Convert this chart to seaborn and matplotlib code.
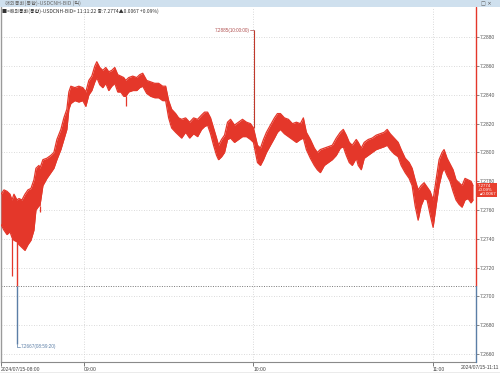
import numpy as np
import pandas as pd
import matplotlib
matplotlib.use("Agg")
import matplotlib.pyplot as plt
import matplotlib.transforms as mtransforms
import seaborn as sns

# ---------------- data (tick index, band high / low) ----------------
tick_idx = [0, 3, 6, 9, 11, 13, 16, 18, 21, 24, 27, 30, 33, 35, 38, 39, 42, 46, 50, 53,
            56, 60, 63, 66, 68, 70, 74, 78, 82, 85, 88, 91, 94, 96, 99, 102, 105, 108, 111, 114,
            117, 120, 123, 125, 128, 132, 136, 139, 142, 146, 150, 154, 158, 162, 165, 168, 171, 175, 178, 181,
            185, 189, 193, 197, 201, 204, 207, 210, 213, 216, 218, 221, 224, 227, 230, 234, 238, 242, 246, 250,
            253, 257, 260, 263, 266, 270, 274, 277, 280, 284, 288, 292, 296, 300, 303, 306, 310, 314, 317, 320,
            324, 328, 332, 336, 340, 343, 346, 349, 352, 356, 358, 361, 364, 368, 372, 376, 380, 384, 387, 390,
            394, 398, 401, 405, 409, 412, 415, 418, 421, 424, 427, 430, 433, 436, 439, 442, 444, 447, 450, 453,
            456, 459, 462, 465, 468, 471, 473]
band_high = [7.2771, 7.2774, 7.2773, 7.2771, 7.2767, 7.2771, 7.2767, 7.2768, 7.2767, 7.2771, 7.2774, 7.2775, 7.2781, 7.2789, 7.2791, 7.2789, 7.2795, 7.2796, 7.2798, 7.2800,
             7.2809, 7.2816, 7.2824, 7.2830, 7.2842, 7.2846, 7.2845, 7.2846, 7.2845, 7.2842, 7.2850, 7.2853, 7.2860, 7.2863, 7.2859, 7.2857, 7.2859, 7.2856, 7.2857, 7.2859,
             7.2854, 7.2853, 7.2852, 7.2850, 7.2852, 7.2853, 7.2852, 7.2854, 7.2855, 7.2850, 7.2849, 7.2848, 7.2848, 7.2846, 7.2846, 7.2836, 7.2830, 7.2827, 7.2824, 7.2823,
             7.2824, 7.2821, 7.2824, 7.2823, 7.2826, 7.2828, 7.2828, 7.2824, 7.2817, 7.2810, 7.2805, 7.2809, 7.2812, 7.2821, 7.2823, 7.2819, 7.2821, 7.2823, 7.2821, 7.2820,
             7.2817, 7.2805, 7.2803, 7.2809, 7.2814, 7.2819, 7.2824, 7.2827, 7.2827, 7.2824, 7.2823, 7.2820, 7.2821, 7.2820, 7.2824, 7.2814, 7.2809, 7.2803, 7.2800, 7.2802,
             7.2803, 7.2804, 7.2805, 7.2810, 7.2814, 7.2816, 7.2812, 7.2807, 7.2805, 7.2809, 7.2807, 7.2803, 7.2807, 7.2809, 7.2810, 7.2812, 7.2813, 7.2814, 7.2816, 7.2813,
             7.2810, 7.2807, 7.2802, 7.2796, 7.2793, 7.2789, 7.2781, 7.2774, 7.2777, 7.2779, 7.2776, 7.2773, 7.2767, 7.2781, 7.2795, 7.2800, 7.2802, 7.2796, 7.2792, 7.2788,
             7.2781, 7.2779, 7.2777, 7.2782, 7.2781, 7.2780, 7.2777]
band_low = [7.2750, 7.2746, 7.2743, 7.2745, 7.2741, 7.2739, 7.2738, 7.2736, 7.2734, 7.2732, 7.2736, 7.2739, 7.2746, 7.2760, 7.2763, 7.2763, 7.2777, 7.2782, 7.2786, 7.2789,
            7.2795, 7.2802, 7.2809, 7.2816, 7.2830, 7.2834, 7.2836, 7.2835, 7.2836, 7.2832, 7.2840, 7.2843, 7.2849, 7.2852, 7.2847, 7.2845, 7.2848, 7.2843, 7.2846, 7.2848,
            7.2842, 7.2842, 7.2839, 7.2839, 7.2842, 7.2843, 7.2843, 7.2845, 7.2846, 7.2841, 7.2839, 7.2838, 7.2838, 7.2836, 7.2836, 7.2824, 7.2817, 7.2814, 7.2812, 7.2810,
            7.2814, 7.2810, 7.2813, 7.2811, 7.2816, 7.2818, 7.2819, 7.2813, 7.2805, 7.2798, 7.2795, 7.2797, 7.2800, 7.2809, 7.2810, 7.2807, 7.2809, 7.2811, 7.2811, 7.2809,
            7.2807, 7.2793, 7.2791, 7.2795, 7.2800, 7.2805, 7.2810, 7.2814, 7.2816, 7.2813, 7.2811, 7.2809, 7.2807, 7.2809, 7.2810, 7.2802, 7.2796, 7.2791, 7.2788, 7.2786,
            7.2791, 7.2793, 7.2795, 7.2798, 7.2803, 7.2804, 7.2798, 7.2793, 7.2791, 7.2796, 7.2791, 7.2788, 7.2796, 7.2798, 7.2800, 7.2802, 7.2803, 7.2804, 7.2805, 7.2802,
            7.2799, 7.2797, 7.2791, 7.2786, 7.2782, 7.2777, 7.2763, 7.2753, 7.2763, 7.2768, 7.2767, 7.2757, 7.2748, 7.2763, 7.2777, 7.2786, 7.2789, 7.2784, 7.2780, 7.2773,
            7.2767, 7.2764, 7.2762, 7.2767, 7.2768, 7.2765, 7.2767]

# single-tick spikes (tick index, base value, extreme value)
spike_idx = [11, 39, 125]
spike_base = [7.2741, 7.2763, 7.2839]
spike_end = [7.2714, 7.2759, 7.2832]

min_idx, min_base, min_value = 16, 7.2738, 7.2667
max_idx, max_base, max_value = 254, 7.2817, 7.2885
prev_close = 7.2707
last_price = 7.2774

y_ticks = [7.2660, 7.2680, 7.2700, 7.2720, 7.2740, 7.2760, 7.2780, 7.2800, 7.2820, 7.2840, 7.2860, 7.2880]
x_tick_idx = [0, 83, 253, 433]
x_tick_labels = ["2024/07/15-08:00", "09:00", "10:00", "11:00"]
last_label = "2024/07/15-11:11"

title1 = "해외통화(통합)-USDCNH-BID (틱)"
title2 = "■<해외통화(통합)-USDCNH-BID> 11:11:22 종:7.2774▲0.0067 +0.09%)"
max_label = "7.2885(10:00:00)"
min_label = "7.2667(08:59:20)"
box_text = "7.2774\n+0.09%\n▲0.0067"

# ---------------- style ----------------
sns.set_theme(style="white")
plt.rcParams["font.family"] = ["Liberation Sans", "Noto Sans CJK KR", "DejaVu Sans"]
RED = "#e4372a"
BLUE = "#5b7ea6"
GRID = "#cfcfcf"

fig = plt.figure(figsize=(5, 3.73), dpi=100)
fig.patch.set_facecolor("white")
ax = fig.add_axes([0.002, 11 / 373, 0.950, 355 / 373])
ax.set_facecolor("white")

df = pd.DataFrame({"tick": tick_idx, "high": band_high, "low": band_low})

# band
ax.fill_between(df["tick"], df["low"], df["high"], color=RED, linewidth=0, zorder=3)
sns.lineplot(data=df, x="tick", y="high", ax=ax, color=RED, linewidth=0.9, zorder=3)
sns.lineplot(data=df, x="tick", y="low", ax=ax, color=RED, linewidth=0.9, zorder=3)

# spikes
ax.vlines(spike_idx, spike_end, spike_base, color=RED, linewidth=0.9, zorder=3)
ax.vlines([min_idx], [prev_close], [min_base], color=RED, linewidth=1.0, zorder=3)
ax.vlines([min_idx], [min_value], [prev_close], color=BLUE, linewidth=1.0, zorder=3)
ax.vlines([max_idx], [max_base], [max_value], color="#c0392b", linewidth=0.8, zorder=3)

# annotations
ax.plot([max_idx - 4, max_idx], [max_value, max_value], color="#b05050", linewidth=0.5, zorder=4)
ax.text(max_idx - 5, max_value, max_label, ha="right", va="center", fontsize=3.3,
        color="#b05050", zorder=4)
ax.plot([min_idx, min_idx, min_idx + 3], [min_value, min_value - 0.0002, min_value - 0.0002],
        color=BLUE, linewidth=0.5, zorder=4)
ax.text(min_idx + 3.5, min_value - 0.0002, min_label, ha="left", va="center", fontsize=3.3,
        color=BLUE, zorder=4)

# grid
for yt in y_ticks:
    ax.axhline(yt, color=GRID, linewidth=0.6, linestyle=(0, (1, 2)), zorder=1)
for xt in x_tick_idx[1:]:
    ax.axvline(xt, color=GRID, linewidth=0.6, linestyle=(0, (1, 2)), zorder=1)
ax.axhline(prev_close, color="#777777", linewidth=0.7, linestyle=(0, (1, 1.5)), zorder=2)

ax.set_xlim(0, 476)
ax.set_ylim(7.26545, 7.29010)

# axes / ticks
ax.yaxis.tick_right()
ax.set_yticks(y_ticks)
ax.set_yticklabels([f"{v:.4f}" for v in y_ticks])
ax.tick_params(axis="y", labelsize=3.6, colors="#555555", length=2, width=0.5, pad=1,
               right=True, left=False)
ax.set_xticks(x_tick_idx)
ax.set_xticklabels(x_tick_labels)
for lbl in ax.get_xticklabels():
    lbl.set_horizontalalignment("left")
ax.tick_params(axis="x", labelsize=3.6, colors="#444444", length=3, width=0.5, pad=0.3,
               bottom=True, direction="out")
ax.set_xlabel("")
ax.set_ylabel("")

for side in ["top", "right"]:
    ax.spines[side].set_visible(False)
ax.spines["left"].set_color("#9a9a9a")
ax.spines["left"].set_linewidth(1.0)
ax.spines["bottom"].set_color("#8a8a8a")
ax.spines["bottom"].set_linewidth(0.8)

blend = mtransforms.blended_transform_factory(ax.transAxes, ax.transData)
ax.plot([1, 1], [prev_close, 7.2901], transform=blend, color=RED, linewidth=1.0, clip_on=False, zorder=5)
ax.plot([1, 1], [7.26545, prev_close], transform=blend, color=BLUE, linewidth=1.0, clip_on=False, zorder=5)

# last price box
ax.text(1.004, last_price, box_text, transform=blend, ha="left", va="center", fontsize=3.2,
        color="white", linespacing=1.0, zorder=6,
        bbox=dict(boxstyle="square,pad=0.25", facecolor="#e8402f", edgecolor="none"))

# last x label outside axes
fig.text(0.998, 5.5 / 373, last_label, ha="right", va="center", fontsize=3.6, color="#444444")
fig.add_artist(plt.Line2D([0, 1], [0.5 / 373, 0.5 / 373], color="#9a9a9a", linewidth=1.0))

# header
fig.add_artist(plt.Rectangle((0, 366 / 373), 1, 7 / 373, facecolor="#cfe0ee", edgecolor="none"))
fig.text(0.010, 369.5 / 373, title1, ha="left", va="center", fontsize=3.8, color="#6a6a6a",
         family=["Noto Sans CJK KR", "DejaVu Sans"])
fig.text(0.962, 369.5 / 373, "□ ×", ha="left", va="center", fontsize=3.6, color="#555555",
         family=["DejaVu Sans"])
fig.text(0.004, 362 / 373, title2, ha="left", va="center", fontsize=3.6, color="#333333",
         family=["Noto Sans CJK KR", "DejaVu Sans"])

fig.savefig("out.png", dpi=100)
